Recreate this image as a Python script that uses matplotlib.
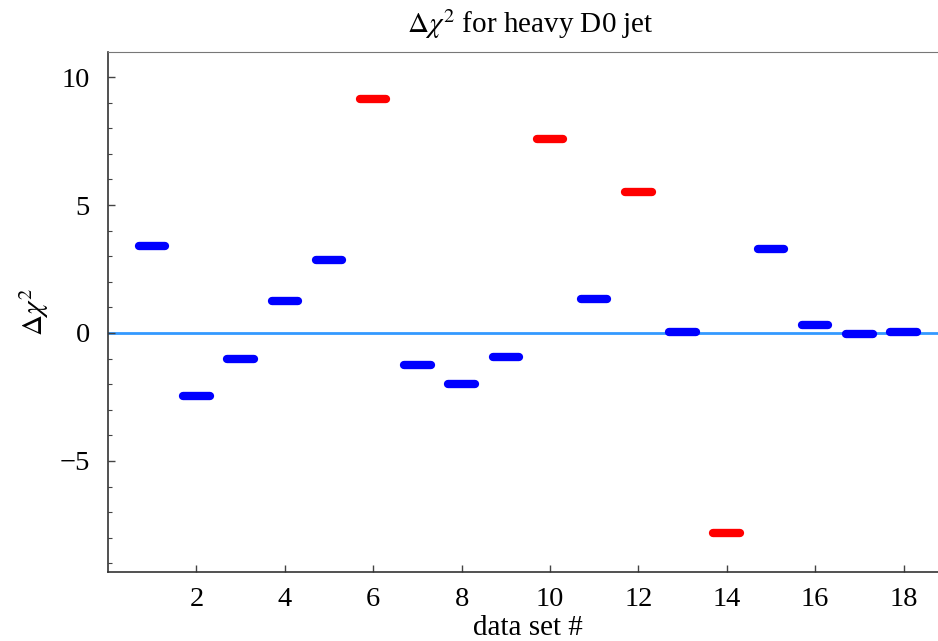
import matplotlib
matplotlib.use("Agg")
import matplotlib.pyplot as plt
from matplotlib.ticker import MultipleLocator

# delta chi^2 per data set, red = large shifts
data_sets = list(range(1, 19))
delta_chi2 = [3.39, -2.48, -1.0, 1.26, 2.84, 9.14, -1.27, -1.98, -0.93,
              7.57, 1.33, 5.5, 0.05, -7.8, 3.29, 0.33, -0.05, 0.05]
highlight = [6, 10, 12, 14]

plt.rcParams['font.family'] = ['Liberation Serif', 'DejaVu Serif']
plt.rcParams['mathtext.fontset'] = 'stix'

fig = plt.figure(figsize=(9.38, 6.41), dpi=100)
ax = fig.add_axes([108 / 938, 69 / 641, 830 / 938, 520 / 641])

ax.axhline(0, color='#3399ff', lw=2.0, zorder=1)

for n, v in zip(data_sets, delta_chi2):
    col = 'red' if n in highlight else 'blue'
    ax.plot([n - 0.3, n + 0.3], [v, v], color=col, lw=6.0,
            solid_capstyle='round', zorder=2)

ax.set_xlim(0, 18.78)
ax.set_ylim(-9.34, 10.98)
ax.set_xticks(range(2, 19, 2))
ax.yaxis.set_major_locator(MultipleLocator(5))
ax.yaxis.set_minor_locator(MultipleLocator(1))

ax.tick_params(which='both', direction='in', labelsize=20.5, color='#444444')
ax.tick_params(which='major', length=5, width=1)
ax.tick_params(which='minor', length=3, width=0.8)
ax.tick_params(axis='x', pad=11)
ax.tick_params(axis='y', pad=13)

for s in ['left', 'bottom']:
    ax.spines[s].set_color('#333333')
    ax.spines[s].set_linewidth(1.2)
ax.spines['top'].set_color('#777777')
ax.spines['right'].set_visible(False)

ax.set_xlabel('data set #', fontsize=21)
ax.xaxis.set_label_coords(0.506, -0.108)
ax.xaxis.label.set_va('center')
ax.set_ylabel(r'$\Delta\chi^2$', fontsize=21, labelpad=6)

fig.text(530 / 938, 1 - 24 / 641, r'$\Delta\chi^2$ for heavy D0 jet',
         fontsize=21, ha='center', va='center')

fig.savefig('out.png', dpi=100)
